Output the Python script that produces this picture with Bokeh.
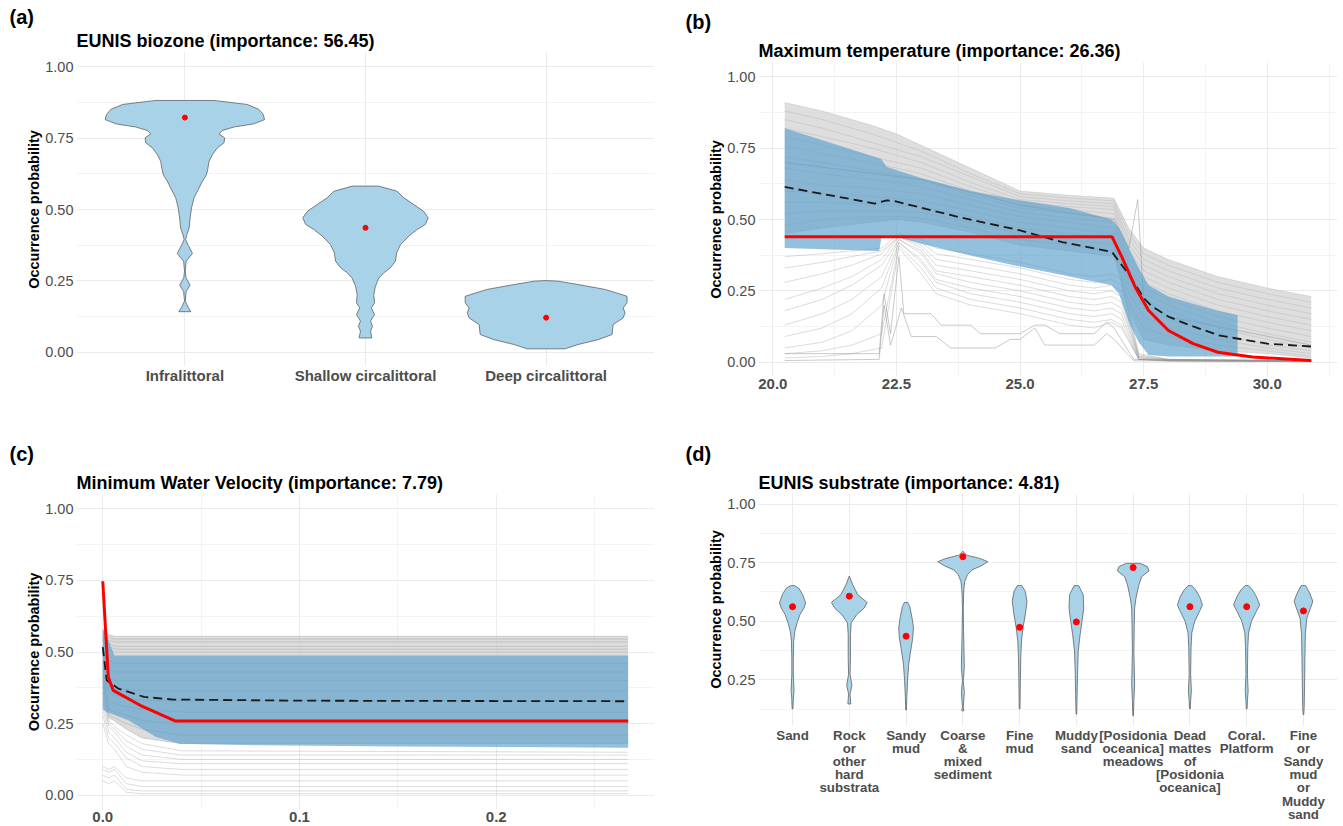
from bokeh.plotting import figure
from bokeh.layouts import column, row
from bokeh.models import FixedTicker, Title, Range1d, NumeralTickFormatter, Spacer
from bokeh.embed import file_html
from bokeh.resources import INLINE

FONT = "Liberation Sans"

# ---------------- panel (a): EUNIS biozone violins ----------------
A_CATEGORIES = ["Infralittoral", "Shallow circalittoral", "Deep circalittoral"]
A_INFRA_Y = [0.882, 0.868, 0.851, 0.833, 0.815, 0.800, 0.789, 0.777, 0.765, 0.751, 0.734, 0.716,
             0.693, 0.669, 0.635, 0.617, 0.600, 0.576, 0.541, 0.506, 0.471, 0.436, 0.412, 0.395,
             0.375, 0.346, 0.319, 0.284, 0.261, 0.235, 0.213, 0.179, 0.158, 0.142]
A_INFRA_W = [0.161, 0.345, 0.409, 0.434, 0.441, 0.382, 0.272, 0.208, 0.189, 0.220, 0.217, 0.180,
             0.153, 0.134, 0.125, 0.116, 0.098, 0.079, 0.051, 0.037, 0.029, 0.024, 0.011, 0.004,
             0.018, 0.042, 0.007, 0.002, 0.006, 0.029, 0.007, 0.002, 0.018, 0.033]
A_SHALLOW_Y = [0.582, 0.564, 0.541, 0.518, 0.494, 0.471, 0.448, 0.430, 0.407, 0.377, 0.348, 0.319,
               0.296, 0.278, 0.260, 0.231, 0.202, 0.173, 0.155, 0.132, 0.109, 0.091, 0.074, 0.050]
A_SHALLOW_W = [0.072, 0.175, 0.212, 0.266, 0.321, 0.347, 0.332, 0.286, 0.240, 0.194, 0.172, 0.166,
               0.138, 0.101, 0.074, 0.055, 0.046, 0.050, 0.032, 0.050, 0.028, 0.039, 0.028, 0.035]
A_DEEP_Y = [0.251, 0.249, 0.237, 0.220, 0.196, 0.173, 0.155, 0.138, 0.120, 0.097, 0.062, 0.044, 0.027, 0.012]
A_DEEP_W = [0.0, 0.066, 0.177, 0.327, 0.448, 0.448, 0.426, 0.437, 0.426, 0.371, 0.365, 0.288, 0.177, 0.105]
A_MEDIANS = [0.822, 0.436, 0.121]

# ---------------- panel (b): maximum temperature ----------------
B_ICE_X = [20.24, 21.0, 22.0, 22.5, 23.0, 24.0, 25.0, 26.0, 26.9, 27.2, 27.5, 28.0, 29.0, 30.0, 30.89]
B_ICE_UPPER = [
    [0.91, 0.88, 0.83, 0.80, 0.76, 0.68, 0.60, 0.585, 0.575, 0.47, 0.40, 0.36, 0.30, 0.26, 0.23],
    [0.88, 0.85, 0.80, 0.77, 0.74, 0.66, 0.59, 0.575, 0.565, 0.45, 0.38, 0.34, 0.28, 0.24, 0.21],
    [0.85, 0.82, 0.77, 0.745, 0.72, 0.65, 0.58, 0.565, 0.555, 0.43, 0.36, 0.32, 0.26, 0.22, 0.19],
    [0.82, 0.79, 0.75, 0.725, 0.70, 0.63, 0.57, 0.555, 0.545, 0.41, 0.34, 0.30, 0.24, 0.20, 0.17],
    [0.79, 0.76, 0.72, 0.70, 0.68, 0.615, 0.56, 0.545, 0.535, 0.39, 0.32, 0.28, 0.22, 0.18, 0.15],
    [0.76, 0.73, 0.70, 0.68, 0.66, 0.60, 0.55, 0.535, 0.52, 0.37, 0.30, 0.26, 0.20, 0.16, 0.13],
    [0.72, 0.70, 0.67, 0.655, 0.64, 0.585, 0.54, 0.52, 0.505, 0.35, 0.28, 0.24, 0.18, 0.14, 0.11],
    [0.68, 0.66, 0.64, 0.63, 0.615, 0.57, 0.525, 0.505, 0.49, 0.33, 0.26, 0.22, 0.16, 0.12, 0.09],
    [0.64, 0.62, 0.61, 0.60, 0.59, 0.55, 0.51, 0.49, 0.47, 0.31, 0.24, 0.20, 0.14, 0.10, 0.07],
    [0.60, 0.59, 0.58, 0.575, 0.565, 0.53, 0.49, 0.47, 0.45, 0.29, 0.22, 0.18, 0.12, 0.08, 0.05],
    [0.56, 0.56, 0.555, 0.55, 0.545, 0.51, 0.47, 0.45, 0.43, 0.27, 0.19, 0.15, 0.10, 0.06, 0.04],
    [0.52, 0.53, 0.53, 0.53, 0.525, 0.49, 0.45, 0.43, 0.41, 0.24, 0.16, 0.12, 0.08, 0.05, 0.03],
    [0.48, 0.50, 0.51, 0.51, 0.505, 0.47, 0.43, 0.41, 0.39, 0.21, 0.12, 0.09, 0.06, 0.04, 0.02],
    [0.45, 0.47, 0.49, 0.50, 0.49, 0.455, 0.41, 0.39, 0.37, 0.18, 0.08, 0.06, 0.04, 0.03, 0.015],
]
B_FAN_X = [20.24, 21.0, 21.6, 22.2, 22.55, 23.0, 23.3, 24.0, 25.0, 26.0, 26.5, 26.85, 27.05, 27.4, 28.0, 30.89]
B_ICE_FAN = [
    [0.37, 0.38, 0.39, 0.40, 0.45, 0.43, 0.40, 0.38, 0.35, 0.31, 0.30, 0.31, 0.29, 0.03, 0.01, 0.005],
    [0.33, 0.35, 0.37, 0.39, 0.44, 0.42, 0.38, 0.36, 0.33, 0.29, 0.28, 0.29, 0.27, 0.025, 0.01, 0.005],
    [0.28, 0.31, 0.34, 0.38, 0.44, 0.41, 0.36, 0.34, 0.31, 0.27, 0.26, 0.27, 0.25, 0.02, 0.01, 0.005],
    [0.22, 0.26, 0.30, 0.36, 0.44, 0.40, 0.34, 0.32, 0.29, 0.25, 0.24, 0.25, 0.23, 0.02, 0.008, 0.004],
    [0.18, 0.22, 0.27, 0.34, 0.43, 0.39, 0.32, 0.30, 0.27, 0.23, 0.22, 0.23, 0.21, 0.015, 0.008, 0.004],
    [0.13, 0.17, 0.22, 0.30, 0.43, 0.38, 0.31, 0.28, 0.25, 0.21, 0.20, 0.21, 0.19, 0.015, 0.006, 0.003],
    [0.09, 0.12, 0.17, 0.26, 0.42, 0.36, 0.29, 0.26, 0.23, 0.19, 0.18, 0.19, 0.17, 0.01, 0.006, 0.003],
    [0.05, 0.07, 0.11, 0.20, 0.42, 0.35, 0.28, 0.24, 0.21, 0.17, 0.16, 0.17, 0.15, 0.01, 0.005, 0.002],
    [0.03, 0.04, 0.06, 0.10, 0.41, 0.33, 0.26, 0.22, 0.19, 0.15, 0.14, 0.15, 0.13, 0.01, 0.005, 0.002],
    [0.015, 0.02, 0.03, 0.05, 0.40, 0.31, 0.24, 0.20, 0.17, 0.13, 0.12, 0.14, 0.12, 0.01, 0.004, 0.002],
]
B_SPIKE_X = [
    [20.24, 22.15, 22.25, 22.38, 22.55, 22.65, 22.8, 23.2, 23.4, 24.0, 24.2, 25.0, 25.3, 25.5, 25.8, 26.5, 26.75, 26.9, 27.3, 30.89],
    [20.24, 22.15, 22.25, 22.38, 22.6, 22.8, 23.3, 23.6, 24.2, 24.5, 24.8, 25.0, 25.3, 25.5, 26.5, 26.75, 26.9, 27.3, 30.89],
    [20.24, 23.0, 25.0, 26.9, 27.2, 27.38, 27.5, 28.0, 30.89],
]
B_SPIKE_Y = [
    [0.03, 0.03, 0.24, 0.10, 0.37, 0.17, 0.17, 0.17, 0.13, 0.13, 0.10, 0.10, 0.13, 0.13, 0.10, 0.10, 0.14, 0.12, 0.01, 0.005],
    [0.006, 0.01, 0.20, 0.06, 0.19, 0.09, 0.09, 0.05, 0.05, 0.05, 0.08, 0.08, 0.12, 0.06, 0.06, 0.10, 0.08, 0.005, 0.003],
    [0.70, 0.64, 0.55, 0.50, 0.40, 0.57, 0.22, 0.16, 0.06],
]
B_BAND_X = [20.24, 22.15, 22.2, 22.3, 22.6, 23.0, 24.0, 25.0, 26.0, 26.85, 27.0, 27.2, 27.4, 27.6, 28.0, 28.5, 29.0, 29.4]
B_BAND_HIGH = [0.82, 0.715, 0.71, 0.685, 0.667, 0.645, 0.60, 0.567, 0.54, 0.50, 0.47, 0.40, 0.33, 0.27, 0.23, 0.205, 0.18, 0.165]
B_BAND_LOW = [0.40, 0.39, 0.44, 0.445, 0.435, 0.415, 0.374, 0.335, 0.30, 0.27, 0.24, 0.14, 0.07, 0.025, 0.02, 0.02, 0.02, 0.02]
B_MEAN_X = [20.24, 22.06, 22.3, 22.47, 23.75, 25.0, 25.85, 26.86, 27.24, 27.5, 27.67, 28.0, 28.35, 29.02, 30.0, 30.89]
B_MEAN_Y = [0.614, 0.556, 0.567, 0.564, 0.509, 0.462, 0.421, 0.386, 0.298, 0.225, 0.195, 0.16, 0.135, 0.094, 0.065, 0.055]
B_RED_X = [20.24, 26.86, 27.06, 27.33, 27.6, 28.0, 28.5, 29.0, 29.7, 30.89]
B_RED_Y = [0.44, 0.44, 0.368, 0.263, 0.181, 0.111, 0.065, 0.035, 0.018, 0.006]

# ---------------- panel (c): minimum water velocity ----------------
C_ICE_X = [0.0, 0.003, 0.006, 0.012, 0.02, 0.04, 0.267]
C_ICE = [
    [0.58, 0.56, 0.555, 0.555, 0.555, 0.555, 0.555],
    [0.57, 0.55, 0.545, 0.545, 0.545, 0.545, 0.545],
    [0.56, 0.54, 0.535, 0.535, 0.535, 0.535, 0.535],
    [0.55, 0.53, 0.52, 0.52, 0.52, 0.52, 0.52],
    [0.56, 0.52, 0.51, 0.51, 0.51, 0.51, 0.51],
    [0.54, 0.51, 0.50, 0.50, 0.50, 0.50, 0.50],
    [0.55, 0.47, 0.46, 0.46, 0.46, 0.46, 0.46],
    [0.52, 0.44, 0.43, 0.43, 0.43, 0.43, 0.43],
    [0.50, 0.41, 0.40, 0.40, 0.40, 0.40, 0.40],
    [0.48, 0.38, 0.37, 0.37, 0.365, 0.365, 0.365],
    [0.46, 0.36, 0.35, 0.34, 0.33, 0.33, 0.33],
    [0.44, 0.33, 0.32, 0.31, 0.30, 0.29, 0.29],
    [0.42, 0.30, 0.29, 0.28, 0.26, 0.25, 0.25],
    [0.40, 0.28, 0.27, 0.25, 0.23, 0.21, 0.21],
    [0.38, 0.27, 0.26, 0.23, 0.20, 0.18, 0.18],
    [0.36, 0.26, 0.24, 0.21, 0.18, 0.155, 0.15],
    [0.34, 0.25, 0.23, 0.19, 0.16, 0.14, 0.14],
    [0.32, 0.24, 0.22, 0.17, 0.14, 0.125, 0.125],
    [0.30, 0.22, 0.20, 0.15, 0.12, 0.11, 0.11],
    [0.28, 0.20, 0.18, 0.13, 0.10, 0.09, 0.09],
    [0.25, 0.18, 0.16, 0.10, 0.08, 0.07, 0.07],
    [0.10, 0.09, 0.10, 0.06, 0.05, 0.05, 0.05],
    [0.09, 0.08, 0.09, 0.04, 0.03, 0.03, 0.03],
    [0.07, 0.06, 0.07, 0.02, 0.015, 0.015, 0.015],
    [0.05, 0.04, 0.05, 0.01, 0.005, 0.005, 0.005],
]
C_BAND_X = [0.0, 0.002, 0.004, 0.006, 0.013, 0.027, 0.039, 0.08, 0.15, 0.267]
C_BAND_HIGH = [0.58, 0.56, 0.52, 0.488, 0.488, 0.488, 0.488, 0.488, 0.488, 0.488]
C_BAND_LOW = [0.30, 0.29, 0.285, 0.28, 0.262, 0.203, 0.18, 0.174, 0.17, 0.166]
C_MEAN_X = [0.0, 0.002, 0.008, 0.021, 0.036, 0.1, 0.267]
C_MEAN_Y = [0.517, 0.401, 0.372, 0.343, 0.334, 0.330, 0.328]
C_RED_X = [0.0, 0.0028, 0.0053, 0.019, 0.037, 0.267]
C_RED_Y = [0.747, 0.413, 0.366, 0.314, 0.259, 0.259]

# ---------------- panel (d): EUNIS substrate violins ----------------
D_CATEGORIES = ["Sand", "Rock\nor\nother\nhard\nsubstrata", "Sandy\nmud", "Coarse\n&\nmixed\nsediment",
                "Fine\nmud", "Muddy\nsand", "[Posidonia\noceanica]\nmeadows",
                "Dead\nmattes\nof\n[Posidonia\noceanica]", "Coral.\nPlatform",
                "Fine\nor\nSandy\nmud\nor\nMuddy\nsand"]
D_VIOLIN_Y = [
    [0.652, 0.641, 0.613, 0.578, 0.556, 0.528, 0.493, 0.457, 0.415, 0.344, 0.274, 0.203, 0.168, 0.126],
    [0.693, 0.655, 0.613, 0.580, 0.556, 0.528, 0.493, 0.443, 0.344, 0.274, 0.227, 0.189, 0.147],
    [0.580, 0.563, 0.514, 0.472, 0.429, 0.373, 0.316, 0.246, 0.175, 0.121],
    [0.799, 0.782, 0.768, 0.754, 0.737, 0.719, 0.698, 0.669, 0.641, 0.613, 0.556, 0.457, 0.302, 0.246, 0.196, 0.133, 0.118],
    [0.652, 0.627, 0.585, 0.528, 0.472, 0.415, 0.344, 0.246, 0.126],
    [0.652, 0.613, 0.556, 0.500, 0.443, 0.373, 0.274, 0.189, 0.104],
    [0.747, 0.733, 0.715, 0.690, 0.655, 0.599, 0.556, 0.486, 0.373, 0.231, 0.161, 0.097],
    [0.652, 0.634, 0.606, 0.570, 0.542, 0.500, 0.450, 0.387, 0.274, 0.203, 0.161, 0.126],
    [0.652, 0.634, 0.606, 0.570, 0.542, 0.500, 0.450, 0.387, 0.274, 0.203, 0.161, 0.126],
    [0.652, 0.620, 0.585, 0.556, 0.514, 0.443, 0.344, 0.231, 0.133, 0.102],
]
D_VIOLIN_W = [
    [0.03, 0.11, 0.18, 0.23, 0.20, 0.13, 0.08, 0.04, 0.02, 0.013, 0.013, 0.026, 0.013, 0.008],
    [0.0, 0.06, 0.15, 0.315, 0.26, 0.13, 0.033, 0.02, 0.02, 0.013, 0.046, 0.013, 0.026],
    [0.03, 0.065, 0.105, 0.13, 0.118, 0.08, 0.046, 0.026, 0.013, 0.006],
    [0.0, 0.065, 0.30, 0.44, 0.33, 0.16, 0.08, 0.033, 0.02, 0.013, 0.007, 0.013, 0.026, 0.007, 0.026, 0.007, 0.02],
    [0.04, 0.10, 0.13, 0.10, 0.06, 0.033, 0.02, 0.013, 0.007],
    [0.04, 0.12, 0.13, 0.10, 0.066, 0.033, 0.02, 0.013, 0.006],
    [0.12, 0.25, 0.28, 0.15, 0.10, 0.05, 0.026, 0.02, 0.013, 0.026, 0.013, 0.006],
    [0.03, 0.10, 0.17, 0.22, 0.17, 0.085, 0.033, 0.02, 0.013, 0.026, 0.013, 0.007],
    [0.03, 0.10, 0.17, 0.23, 0.17, 0.085, 0.033, 0.02, 0.013, 0.026, 0.013, 0.007],
    [0.04, 0.11, 0.165, 0.125, 0.06, 0.033, 0.026, 0.02, 0.013, 0.006],
]
D_MEDIANS = [0.562, 0.607, 0.436, 0.775, 0.474, 0.497, 0.729, 0.562, 0.562, 0.544]

Y_TICKS = [0.0, 0.25, 0.5, 0.75, 1.0]
Y_MINOR = [0.125, 0.375, 0.625, 0.875]

# ---------------- styling helpers ----------------
VIOLIN_FILL = "#a8d2e8"
VIOLIN_LINE = "#5e6266"
BAND_COLOR = "#5b9fcc"
GRAY_LINE = "#8a8a8a"
TICK_COLOR = "#4d4d4d"


def make_fig(w, h, xr, yr, left, right, top, bottom):
    p = figure(width=w, height=h, x_range=Range1d(*xr), y_range=Range1d(*yr),
               output_backend="svg", toolbar_location=None, title_location=None,
               min_border_left=left, min_border_right=right,
               min_border_top=top, min_border_bottom=bottom)
    p.outline_line_color = None
    p.background_fill_color = "white"
    p.border_fill_color = "white"
    return p


def style_axes(p, xticks, xminor, yticks, yminor, xfmt=None, xsize="15px"):
    xt = FixedTicker(ticks=xticks, minor_ticks=xminor)
    yt = FixedTicker(ticks=yticks, minor_ticks=yminor)
    p.xaxis[0].ticker = xt
    p.yaxis[0].ticker = yt
    p.xgrid[0].ticker = xt
    p.ygrid[0].ticker = yt
    for g in (p.xgrid[0], p.ygrid[0]):
        g.grid_line_color = "#ebebeb"
        g.grid_line_width = 1
        g.minor_grid_line_color = "#f3f3f3"
        g.minor_grid_line_width = 1
    for ax in (p.xaxis[0], p.yaxis[0]):
        ax.axis_line_color = None
        ax.major_tick_line_color = None
        ax.minor_tick_line_color = None
        ax.major_tick_out = 0
        ax.major_tick_in = 0
        ax.minor_tick_out = 0
        ax.minor_tick_in = 0
        ax.major_label_text_font = FONT
        ax.major_label_text_font_size = "14.5px"
        ax.major_label_text_color = TICK_COLOR
        ax.major_label_standoff = 3
    p.xaxis[0].major_label_text_font_style = "bold"
    p.xaxis[0].major_label_text_font_size = xsize
    p.xaxis[0].major_label_standoff = 2
    if xfmt:
        p.xaxis[0].formatter = NumeralTickFormatter(format=xfmt)
    p.yaxis[0].formatter = NumeralTickFormatter(format="0.00")
    p.yaxis[0].axis_label = "Occurrence probability"
    p.yaxis[0].axis_label_text_font = FONT
    p.yaxis[0].axis_label_text_font_style = "bold"
    p.yaxis[0].axis_label_text_font_size = "14.5px"
    p.yaxis[0].axis_label_text_color = "black"
    p.yaxis[0].axis_label_standoff = 0


def add_titles(p, text, tag, tag_offset, title_standoff, tag_standoff):
    p.add_layout(Title(text=text, align="left", text_font=FONT, text_font_size="18px",
                       text_font_style="bold", text_color="black", standoff=title_standoff), "above")
    p.add_layout(Title(text=tag, align="left", offset=tag_offset, text_font=FONT,
                       text_font_size="20px", text_font_style="bold", text_color="black",
                       standoff=tag_standoff), "above")


def violin(p, center, ys, ws):
    xs = [center + w for w in ws] + [center - w for w in ws[::-1]]
    yy = list(ys) + list(ys[::-1])
    p.patch(xs, yy, fill_color=VIOLIN_FILL, line_color=VIOLIN_LINE, line_width=0.8)


# ---------------- panel (a) ----------------
pa = make_fig(672, 423, (0.4, 3.6), (-0.05, 1.05), 76, 18, 52, 57)
style_axes(pa, [1, 2, 3], [], Y_TICKS, Y_MINOR)
pa.xaxis[0].major_label_overrides = {i + 1: c for i, c in enumerate(A_CATEGORIES)}
pa.xaxis[0].major_label_standoff = 0
add_titles(pa, "EUNIS biozone (importance: 56.45)", "(a)", -67, 3, 0)
for i, (ys, ws) in enumerate([(A_INFRA_Y, A_INFRA_W), (A_SHALLOW_Y, A_SHALLOW_W), (A_DEEP_Y, A_DEEP_W)]):
    violin(pa, i + 1, ys, ws)
pa.scatter([1, 2, 3], A_MEDIANS, size=5, color="red")

# ---------------- panel (b) ----------------
pb = make_fig(671, 421, (19.71, 31.42), (-0.05, 1.05), 86, 6, 61, 46)
style_axes(pb, [20, 22.5, 25, 27.5, 30], [21.25, 23.75, 26.25, 28.75, 31.25], Y_TICKS, Y_MINOR, xfmt="0.0")
add_titles(pb, "Maximum temperature (importance: 26.36)", "(b)", -73, 3, 10)
pb.varea(x=B_ICE_X, y1=B_ICE_UPPER[-1], y2=B_ICE_UPPER[0], fill_color="#d6d6d6", fill_alpha=0.8)
pb.multi_line([B_ICE_X] * len(B_ICE_UPPER), B_ICE_UPPER, line_color=GRAY_LINE, line_alpha=0.2, line_width=1)
pb.multi_line([B_FAN_X] * len(B_ICE_FAN), B_ICE_FAN, line_color=GRAY_LINE, line_alpha=0.3, line_width=1)
pb.multi_line(B_SPIKE_X, B_SPIKE_Y, line_color=GRAY_LINE, line_alpha=0.45, line_width=1)
pb.varea(x=B_BAND_X, y1=B_BAND_LOW, y2=B_BAND_HIGH, fill_color=BAND_COLOR, fill_alpha=0.66)
pb.line(B_MEAN_X, B_MEAN_Y, line_color="#1a1a1a", line_width=1.8, line_dash="9 5")
pb.line(B_RED_X, B_RED_Y, line_color="#ff0000", line_width=3)

# ---------------- panel (c) ----------------
pc = make_fig(672, 402, (-0.01335, 0.2804), (-0.05, 1.05), 76, 18, 71, 16)
style_axes(pc, [0.0, 0.1, 0.2], [0.05, 0.15, 0.25], Y_TICKS, Y_MINOR, xfmt="0.0")
add_titles(pc, "Minimum Water Velocity (importance: 7.79)", "(c)", -67, 3, 10)
pc.varea(x=C_ICE_X, y1=C_ICE[14], y2=C_ICE[0], fill_color="#d0d0d0", fill_alpha=0.75)
pc.multi_line([C_ICE_X] * len(C_ICE), C_ICE, line_color=GRAY_LINE, line_alpha=0.3, line_width=1)
pc.varea(x=C_BAND_X, y1=C_BAND_LOW, y2=C_BAND_HIGH, fill_color=BAND_COLOR, fill_alpha=0.66)
pc.line(C_MEAN_X, C_MEAN_Y, line_color="#1a1a1a", line_width=1.8, line_dash="9 5")
pc.line(C_RED_X, C_RED_Y, line_color="#ff0000", line_width=3)

# ---------------- panel (d) ----------------
pd_ = make_fig(671, 400, (0.4, 10.6), (0.055, 1.045), 86, 6, 69, 96)
style_axes(pd_, list(range(1, 11)), [], [0.25, 0.5, 0.75, 1.0], Y_MINOR, xsize="13.3px")
pd_.xaxis[0].major_label_overrides = {i + 1: c for i, c in enumerate(D_CATEGORIES)}
pd_.xaxis[0].major_label_text_line_height = 0.88
add_titles(pd_, "EUNIS substrate (importance: 4.81)", "(d)", -73, 2, 9)
for i in range(len(D_CATEGORIES)):
    violin(pd_, i + 1, D_VIOLIN_Y[i], D_VIOLIN_W[i])
pd_.scatter(list(range(1, 11)), D_MEDIANS, size=6, color="red")

layout = column(row(pa, column(Spacer(height=1), pb)),
                row(pc, column(Spacer(height=1), pd_)))
open("out.html", "w").write(file_html(layout, INLINE))
